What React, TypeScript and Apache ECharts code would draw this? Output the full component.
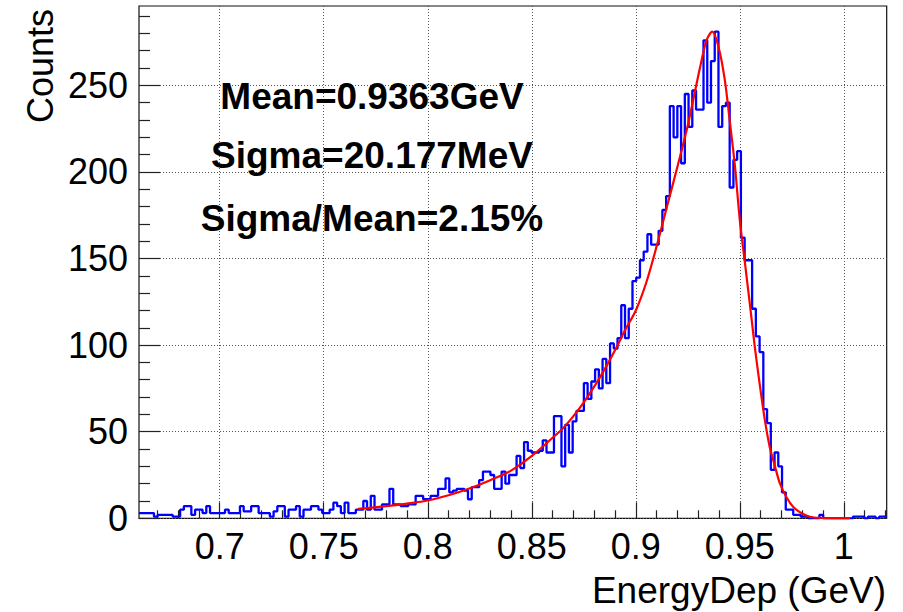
import React, { useEffect, useRef } from "react";
import * as echarts from "echarts";

// ---- data ----
const X_MIN = 0.6612;
const X_MAX = 1.0206;
const Y_MAX = 295.8;

// histogram counts, 200 equal bins between X_MIN and X_MAX
const COUNTS = [
  3, 3, 3, 3, 1, 2, 2, 2, 2, 1,
  1, 5, 7, 7, 2, 5, 5, 3, 7, 3,
  3, 3, 3, 5, 3, 3, 3, 7, 4, 4,
  7, 7, 3, 3, 3, 1, 4, 7, 7, 1,
  5, 5, 7, 1, 5, 5, 7, 7, 5, 3,
  3, 5, 9, 7, 3, 9, 3, 3, 5, 5,
  10, 5, 13, 5, 5, 8, 8, 17, 8, 8,
  7, 7, 8, 8, 13, 13, 11, 11, 13, 13,
  17, 17, 23, 15, 16, 17, 17, 16, 11, 18,
  18, 22, 27, 27, 25, 17, 17, 27, 20, 25,
  25, 36, 29, 44, 39, 38, 38, 39, 45, 38,
  38, 59, 59, 30, 54, 38, 56, 62, 62, 78,
  69, 79, 86, 75, 92, 78, 101, 98, 104, 123,
  104, 121, 137, 139, 149, 154, 164, 158, 158, 166,
  178, 186, 238, 220, 238, 205, 245, 226, 247, 236,
  236, 276, 240, 264, 281, 226, 238, 240, 191, 207,
  212, 162, 149, 149, 121, 105, 96, 63, 55, 28,
  38, 30, 15, 5, 5, 2, 2, 1, 1, 0,
  0, 0, 2, 0, 0, 0, 0, 0, 0, 0,
  0, 1, 1, 1, 0, 1, 1, 0, 1, 1,
];

// fitted curve
const FIT_X = [
  0.7665, 0.78, 0.79, 0.8, 0.81, 0.82, 0.83, 0.84, 0.85, 0.86,
  0.865, 0.87, 0.875, 0.88, 0.885, 0.89, 0.895, 0.9, 0.905, 0.91,
  0.915, 0.92, 0.925, 0.931, 0.934, 0.9367, 0.9398, 0.9428, 0.945, 0.9476,
  0.95, 0.9524, 0.9548, 0.9572, 0.9596, 0.962, 0.9644, 0.9669, 0.9693, 0.9725,
  0.9757, 0.9797, 0.9837, 0.9885, 0.995, 1.003,
];
const FIT_Y = [
  5.4, 7, 8.5, 10.3, 13.3, 17.2, 22, 27.5, 36, 46.5,
  52, 59, 67, 76, 86, 97, 109, 120, 136, 157,
  180, 203, 227, 261, 276, 281, 272, 253, 231, 204,
  172, 148, 124, 99, 77, 57, 41, 30, 20, 12,
  6.5, 2.9, 0.9, 0.2, 0, 0,
];

const X_MAJOR = [0.7, 0.75, 0.8, 0.85, 0.9, 0.95, 1.0];
const X_MINOR = [
  0.67, 0.68, 0.69, 0.71, 0.72, 0.73, 0.74, 0.76, 0.77, 0.78, 0.79,
  0.81, 0.82, 0.83, 0.84, 0.86, 0.87, 0.88, 0.89, 0.91, 0.92, 0.93, 0.94,
  0.96, 0.97, 0.98, 0.99, 1.01, 1.02,
];
const Y_MAJOR = [0, 50, 100, 150, 200, 250];
const Y_MINOR = [
  10, 20, 30, 40, 60, 70, 80, 90, 110, 120, 130, 140, 160, 170, 180, 190,
  210, 220, 230, 240, 260, 270, 280, 290,
];

const STATS = ["Mean=0.9363GeV", "Sigma=20.177MeV", "Sigma/Mean=2.15%"];
const X_TITLE = "EnergyDep (GeV)";
const Y_TITLE = "Counts";

const FONT = "Liberation Sans, Arial, Helvetica, sans-serif";

export default function App() {
  const ref = useRef<HTMLDivElement>(null);

  useEffect(() => {
    if (!ref.current) return;
    const chart = echarts.init(ref.current, null, { renderer: "svg" });

    const binW = (X_MAX - X_MIN) / COUNTS.length;
    const histData: number[][] = [];
    COUNTS.forEach((c, i) => {
      histData.push([X_MIN + i * binW, c]);
      histData.push([X_MIN + (i + 1) * binW, c]);
    });
    const fitData = FIT_X.map((x, i) => [x, FIT_Y[i]]);

    const gridLine = { color: "#555", width: 1, type: [1, 2] as number[] };
    const tickLine = { color: "#222", width: 1.2 };

    chart.setOption({
      animation: false,
      backgroundColor: "#fff",
      grid: {
        left: 139,
        right: 16.3,
        top: 6,
        bottom: 93.7,
        show: true,
        borderColor: "#111",
        borderWidth: 1.2,
        containLabel: false,
      },
      xAxis: [
        {
          type: "value",
          min: X_MIN,
          max: X_MAX,
          splitNumber: 7,
          axisLine: { show: false },
          axisTick: { show: true, inside: true, length: 16, customValues: X_MAJOR, lineStyle: tickLine },
          axisLabel: {
            customValues: X_MAJOR,
            fontSize: 36,
            fontFamily: FONT,
            color: "#000",
            margin: 10,
            formatter: (v: number) => String(Number(v.toFixed(2))),
          },
          splitLine: { show: true, lineStyle: gridLine },
        },
        {
          type: "value",
          min: X_MIN,
          max: X_MAX,
          position: "bottom",
          axisLine: { show: false },
          axisTick: { show: true, inside: true, length: 8, customValues: X_MINOR, lineStyle: tickLine },
          axisLabel: { show: false },
          splitLine: { show: false },
        },
      ],
      yAxis: [
        {
          type: "value",
          min: 0,
          max: Y_MAX,
          interval: 50,
          axisLine: { show: false },
          axisTick: { show: true, inside: true, length: 21, customValues: Y_MAJOR, lineStyle: tickLine },
          axisLabel: {
            customValues: Y_MAJOR,
            fontSize: 36,
            fontFamily: FONT,
            color: "#000",
            margin: 11,
          },
          splitLine: { show: true, lineStyle: gridLine },
        },
        {
          type: "value",
          min: 0,
          max: Y_MAX,
          position: "left",
          axisLine: { show: false },
          axisTick: { show: true, inside: true, length: 11, customValues: Y_MINOR, lineStyle: tickLine },
          axisLabel: { show: false },
          splitLine: { show: false },
        },
      ],
      series: [
        {
          type: "line",
          name: "hist",
          xAxisIndex: 0,
          yAxisIndex: 0,
          data: histData,
          symbol: "none",
          clip: true,
          lineStyle: { color: "#0000ff", width: 2.3 },
          z: 3,
        },
        {
          type: "line",
          name: "fit",
          xAxisIndex: 0,
          yAxisIndex: 0,
          data: fitData,
          symbol: "none",
          smooth: 0.3,
          clip: true,
          lineStyle: { color: "#ff0000", width: 2.2 },
          z: 4,
        },
      ],
      graphic: [
        ...STATS.map((t, i) => ({
          type: "text",
          x: 372,
          y: [96, 155, 218][i],
          style: {
            text: t,
            font: `bold 37px ${FONT}`,
            fill: "#000",
            align: "center",
            verticalAlign: "middle",
          },
          z: 10,
        })),
        {
          type: "text",
          x: 886,
          y: 590,
          style: {
            text: X_TITLE,
            font: `37px ${FONT}`,
            fill: "#000",
            align: "right",
            verticalAlign: "middle",
          },
        },
        {
          type: "text",
          x: 40,
          y: 9,
          rotation: Math.PI / 2,
          style: {
            text: Y_TITLE,
            font: `36px ${FONT}`,
            fill: "#000",
            align: "right",
            verticalAlign: "middle",
          },
        },
      ],
    });

    return () => chart.dispose();
  }, []);

  return (
    <div
      ref={ref}
      style={{ position: "fixed", left: 0, top: 0, width: 903, height: 612, background: "#fff" }}
    />
  );
}
